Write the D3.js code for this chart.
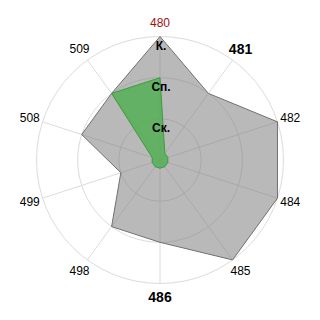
<!DOCTYPE html>
<html>
<head>
<meta charset="utf-8">
<script src="https://cdn.jsdelivr.net/npm/d3@7"></script>
<style>
  body { margin: 0; background: #fff; }
  text { font-family: "Liberation Sans", Arial, sans-serif; }
</style>
</head>
<body>
<svg id="chart"></svg>
<script>
var axes = ["480", "481", "482", "484", "485", "486", "498", "499", "508", "509"];
var levels = ["Ск.", "Сп.", "К."];
var grayValues = [3, 2, 3, 3, 3, 2, 2, 1, 2, 2];
var greenValues = [2, 0.2, 0.2, 0.2, 0.2, 0.2, 0.2, 0.2, 0.2, 2];
var redAxes = ["480"];
var boldAxes = ["481", "486"];

let width = 320;
let height = 320;
let cx = 160, cy = 160;

let svg = d3.select("#chart")
  .attr("width", width)
  .attr("height", height);

let g = svg.append("g").attr("transform", "translate(" + cx + "," + cy + ")");

let r = d3.scaleLinear().domain([0, 3]).range([0, 123.5]);
let angle = d3.scaleBand().domain(axes).range([0, 2 * Math.PI]).align(0);

function ang(d) { return angle(d); }

// grid circles
g.selectAll("circle.grid")
  .data(d3.range(1, levels.length + 1))
  .enter()
  .append("circle")
  .attr("class", "grid")
  .attr("r", d => r(d))
  .attr("fill", "none")
  .attr("stroke", "#dcdcdc")
  .attr("stroke-width", 1);

// spokes
g.selectAll("line.spoke")
  .data(axes)
  .enter()
  .append("line")
  .attr("x1", 0).attr("y1", 0)
  .attr("x2", d => r(3) * Math.sin(ang(d)))
  .attr("y2", d => -r(3) * Math.cos(ang(d)))
  .attr("stroke", "#dcdcdc")
  .attr("stroke-width", 1);

let radial = d3.lineRadial()
  .angle((d, i) => ang(axes[i]))
  .radius(d => r(d))
  .curve(d3.curveLinearClosed);

g.append("path")
  .attr("d", radial(grayValues))
  .attr("fill", "#808080")
  .attr("fill-opacity", 0.55)
  .attr("stroke", "#707070")
  .attr("stroke-width", 1);

g.append("path")
  .attr("d", radial(greenValues))
  .attr("fill", "#4caf50")
  .attr("fill-opacity", 0.8)
  .attr("stroke", "#3d9a3d")
  .attr("stroke-width", 1)
  .attr("stroke-linejoin", "round");

// level labels
g.selectAll("text.level")
  .data(levels)
  .enter()
  .append("text")
  .attr("x", 1)
  .attr("y", (d, i) => -r(i + 1) + 9)
  .attr("text-anchor", "middle")
  .attr("dominant-baseline", "central")
  .attr("font-size", 12)
  .attr("font-weight", "bold")
  .attr("fill", "#000")
  .text(d => d);

// axis labels
g.selectAll("text.axis")
  .data(axes)
  .enter()
  .append("text")
  .attr("x", d => 137 * Math.sin(ang(d)))
  .attr("y", d => -137 * Math.cos(ang(d)))
  .attr("text-anchor", "middle")
  .attr("dominant-baseline", "central")
  .attr("font-size", d => boldAxes.includes(d) ? 14 : 12)
  .attr("font-weight", d => boldAxes.includes(d) ? "bold" : "normal")
  .attr("fill", d => redAxes.includes(d) ? "#a01010" : "#000")
  .text(d => d);
</script>
</body>
</html>
